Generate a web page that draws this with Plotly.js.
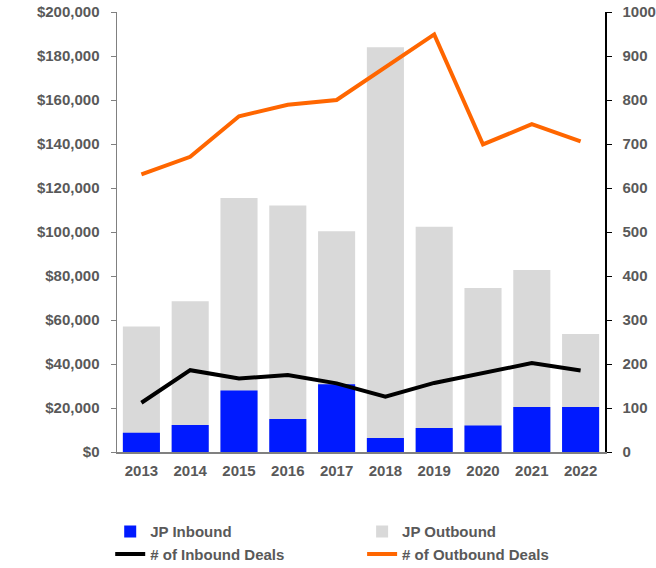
<!DOCTYPE html>
<html><head><meta charset="utf-8">
<script src="https://cdn.plot.ly/plotly-3.0.1.min.js"></script>
<style>html,body{margin:0;padding:0;background:#fff}</style>
</head><body>
<div id="chart" style="width:656px;height:568px"></div>
<script>
const years = ['2013','2014','2015','2016','2017','2018','2019','2020','2021','2022'];
const jpInbound = [8800, 12300, 27900, 15000, 30800, 6400, 10900, 12000, 20500, 20500];
const jpOutbound = [57000, 68500, 115500, 112000, 100300, 184000, 102400, 74500, 82700, 53600];
const inboundDeals = [112, 186, 167, 175, 156, 126, 157, 179, 202, 185];
const outboundDeals = [631, 671, 763, 789, 800, 874, 949, 699, 745, 706];

const FAM = 'Liberation Sans, Arial, sans-serif';
const tf = {family: FAM, size: 15, color: '#595959', weight: 'bold'};
const legFont = {family: FAM, size: 15, color: '#595959', weight: 'bold'};
const traces = [
  {type: 'bar', name: 'JP Outbound', x: years, y: jpOutbound, marker: {color: '#D9D9D9'}, legend: 'legend2', legendrank: 1},
  {type: 'bar', name: 'JP Inbound', x: years, y: jpInbound, marker: {color: '#001AFF'}, legend: 'legend', legendrank: 1},
  {type: 'scatter', mode: 'lines', name: '# of Inbound Deals', x: years, y: inboundDeals, yaxis: 'y2', line: {color: '#000000', width: 4}, legend: 'legend', legendrank: 2},
  {type: 'scatter', mode: 'lines', name: '# of Outbound Deals', x: years, y: outboundDeals, yaxis: 'y2', line: {color: '#FF6600', width: 4}, legend: 'legend2', legendrank: 2}
];
const legBase = {orientation: 'h', xref: 'container', yref: 'container', xanchor: 'left', y: 0.093, yanchor: 'top',
                 entrywidth: 252, entrywidthmode: 'pixels', itemwidth: 30, tracegroupgap: 0, font: legFont, bgcolor: 'rgba(0,0,0,0)'};
const layout = {
  width: 656, height: 568,
  margin: {l: 117, r: 51, t: 12, b: 116},
  paper_bgcolor: '#fff', plot_bgcolor: '#fff',
  font: {family: FAM, size: 15, color: '#595959'},
  barmode: 'overlay', bargap: 0.24,
  showlegend: true,
  legend: Object.assign({}, legBase, {x: 0.168}),
  legend2: Object.assign({}, legBase, {x: 0.552}),
  xaxis: {type: 'category', showline: true, linecolor: '#808080', linewidth: 1.5, ticks: '', showgrid: false, tickfont: tf, zeroline: false, ticklabelstandoff: 4},
  yaxis: {range: [0, 200000], dtick: 20000, tickprefix: '$', tickformat: ',d', showgrid: false, zeroline: false, showline: true, linecolor: '#808080', linewidth: 1.5, ticks: 'outside', ticklen: 5, tickcolor: '#808080', tickfont: tf, ticklabelstandoff: 8},
  yaxis2: {overlaying: 'y', side: 'right', range: [0, 1000], dtick: 100, showgrid: false, zeroline: false, showline: true, linecolor: '#000000', linewidth: 1.5, ticks: 'outside', ticklen: 5, tickcolor: '#000000', tickfont: tf, ticklabelstandoff: 8}
};
Plotly.newPlot('chart', traces, layout, {displayModeBar: false, staticPlot: true});
</script>
</body></html>
